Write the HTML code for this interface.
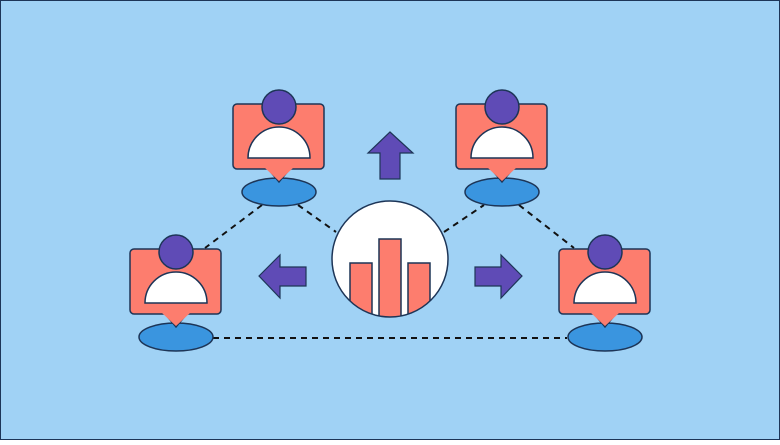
<!DOCTYPE html>
<html><head><style>html,body{margin:0;padding:0}body{width:780px;height:440px;overflow:hidden}</style></head>
<body>
<svg width="780" height="440" viewBox="0 0 780 440" xmlns="http://www.w3.org/2000/svg">
<defs>
<g id="p" stroke="#1d3557" stroke-width="1.5">
<ellipse cx="0" cy="88" rx="37" ry="14" fill="#3a95df"/>
<polygon points="-15,60 15,60 0,78" fill="#fd7d6e"/>
<rect x="-46" y="0" width="91" height="65" rx="4" fill="#fd7d6e"/>
<polygon points="-14,64 14,64 0,77" fill="#fd7d6e" stroke="none"/>
<circle cx="0" cy="3" r="17" fill="#5f4bb6"/>
<path d="M-31,54 A31,31 0 0 1 31,54 Z" fill="#fff"/>
</g>
<clipPath id="c"><circle cx="390" cy="259" r="58"/></clipPath>
</defs>
<rect x="0.5" y="0.5" width="779" height="439" fill="#a0d2f5" stroke="#1d3557" stroke-width="1"/>
<g stroke="#111" stroke-width="2" stroke-dasharray="6,5" fill="none">
<line x1="262" y1="205" x2="205" y2="248"/>
<line x1="298" y1="205" x2="336" y2="232"/>
<line x1="444" y1="232" x2="484" y2="205"/>
<line x1="519" y1="205" x2="574" y2="248"/>
<line x1="213" y1="338" x2="567" y2="338"/>
</g>
<use href="#p" x="279" y="104"/>
<use href="#p" x="502" y="104"/>
<use href="#p" x="176" y="249"/>
<use href="#p" x="605" y="249"/>
<circle cx="390" cy="259" r="58" fill="#fff"/>
<g clip-path="url(#c)" fill="#fd7d6e" stroke="#1d3557" stroke-width="1.5">
<rect x="350" y="263" width="22" height="70"/>
<rect x="379" y="239" width="22" height="90"/>
<rect x="408" y="263" width="22" height="70"/>
</g>
<circle cx="390" cy="259" r="58" fill="none" stroke="#1d3557" stroke-width="1.5"/>
<g fill="#5f4bb6" stroke="#1d3557" stroke-width="1.2">
<polygon points="390,132 413,153 400,153 400,179 380,179 380,153 368,153"/>
<polygon points="259,276 280,255 280,267 306,267 306,286 280,286 280,298"/>
<polygon points="522,276 501,255 501,267 475,267 475,286 501,286 501,298"/>
</g>
</svg>
</body></html>
